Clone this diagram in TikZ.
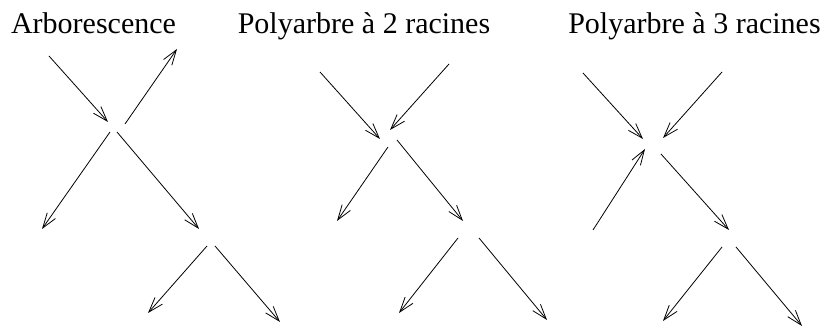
\documentclass[tikz,border=0pt]{standalone}
\usepackage{fontspec}
\setmainfont{Liberation Serif}
\usetikzlibrary{arrows.meta}
\begin{document}
\begin{tikzpicture}[x=1pt,y=-1pt,
  arr/.style={line width=0.8pt,-{Straight Barb[length=15pt,width=10pt,line width=0.8pt]}},
  title/.style={anchor=base,inner sep=0pt,font=\fontsize{30}{36}\selectfont}]
\useasboundingbox (0,0) rectangle (827,328);
% titles
\node[title] (t1) at (93.5,34) {Arborescence};
\node[title] (t2) at (364,34) {Polyarbre à 2 racines};
\node[title] (t3) at (694.5,34) {Polyarbre à 3 racines};
% diagram 1
\coordinate (a1s) at (49,56);   \coordinate (a1e) at (108,122);
\coordinate (b1s) at (125,124); \coordinate (b1e) at (177,49);
\coordinate (c1s) at (110,132); \coordinate (c1e) at (42,229);
\coordinate (d1s) at (117,132); \coordinate (d1e) at (199,229);
\coordinate (e1s) at (207,246); \coordinate (e1e) at (148,313);
\coordinate (f1s) at (215,246); \coordinate (f1e) at (280,322);
\draw[arr] (a1s) -- (a1e);
\draw[arr] (b1s) -- (b1e);
\draw[arr] (c1s) -- (c1e);
\draw[arr] (d1s) -- (d1e);
\draw[arr] (e1s) -- (e1e);
\draw[arr] (f1s) -- (f1e);
% diagram 2
\coordinate (a2s) at (320,72);  \coordinate (a2e) at (380,139);
\coordinate (b2s) at (449,64);  \coordinate (b2e) at (390,130);
\coordinate (c2s) at (388,147); \coordinate (c2e) at (337,221);
\coordinate (d2s) at (397,140); \coordinate (d2e) at (463,221);
\coordinate (e2s) at (458,238); \coordinate (e2e) at (399,313);
\coordinate (f2s) at (479,238); \coordinate (f2e) at (547,320);
\draw[arr] (a2s) -- (a2e);
\draw[arr] (b2s) -- (b2e);
\draw[arr] (c2s) -- (c2e);
\draw[arr] (d2s) -- (d2e);
\draw[arr] (e2s) -- (e2e);
\draw[arr] (f2s) -- (f2e);
% diagram 3
\coordinate (a3s) at (583,73);  \coordinate (a3e) at (643,139);
\coordinate (b3s) at (722,72);  \coordinate (b3e) at (663,138);
\coordinate (c3s) at (593,230); \coordinate (c3e) at (645,149);
\coordinate (d3s) at (661,154); \coordinate (d3e) at (729,230);
\coordinate (e3s) at (722,247); \coordinate (e3e) at (663,321);
\coordinate (f3s) at (736,247); \coordinate (f3e) at (802,326);
\draw[arr] (a3s) -- (a3e);
\draw[arr] (b3s) -- (b3e);
\draw[arr] (c3s) -- (c3e);
\draw[arr] (d3s) -- (d3e);
\draw[arr] (e3s) -- (e3e);
\draw[arr] (f3s) -- (f3e);
\end{tikzpicture}
\end{document}
